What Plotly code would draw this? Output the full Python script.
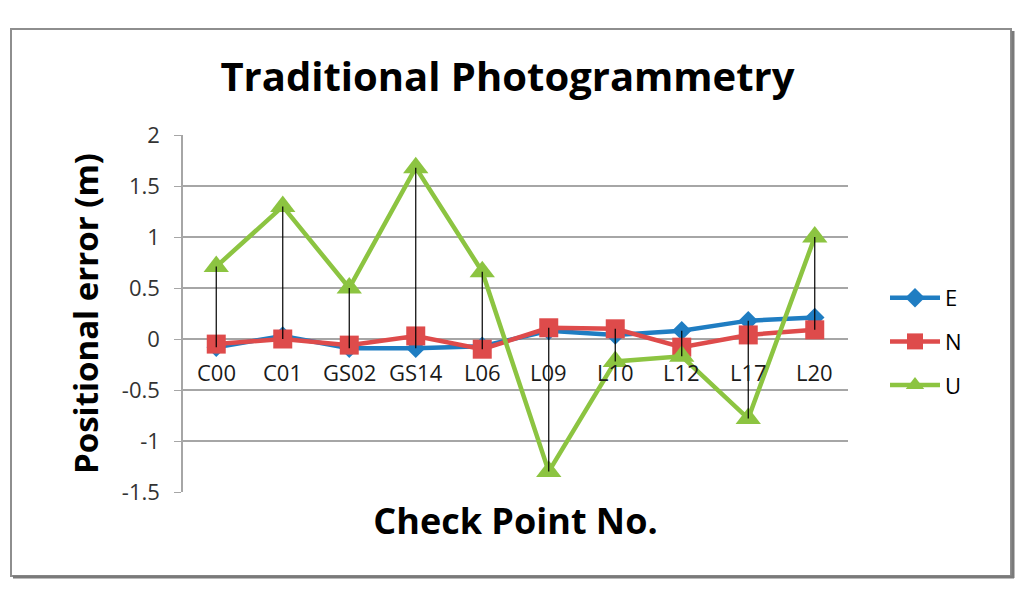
import plotly.graph_objects as go

categories = ["C00", "C01", "GS02", "GS14", "L06", "L09", "L10", "L12", "L17", "L20"]
E = [-0.08, 0.03, -0.09, -0.09, -0.07, 0.08, 0.04, 0.08, 0.18, 0.21]
N = [-0.05, 0.00, -0.06, 0.03, -0.10, 0.11, 0.10, -0.08, 0.04, 0.09]
U = [0.71, 1.30, 0.50, 1.68, 0.66, -1.30, -0.22, -0.17, -0.78, 1.00]
y_ticks = [2, 1.5, 1, 0.5, 0, -0.5, -1, -1.5]
y_tick_text = ["2", "1.5", "1", "0.5", "0", "-0.5", "-1", "-1.5"]

FONT = "Open Sans"
colors = {"E": "#1F7DC2", "N": "#DE4B4B", "U": "#8CC441"}
symbols = {"E": "diamond", "N": "square", "U": "triangle-up"}
sizes = {"E": 15, "N": 19, "U": 22}

fig = go.Figure()
for name, vals in [("E", E), ("N", N), ("U", U)]:
    fig.add_trace(go.Scatter(
        x=categories, y=vals, name=name, mode="lines+markers",
        line=dict(color=colors[name], width=4.5),
        marker=dict(symbol=symbols[name], size=sizes[name], color=colors[name]),
        legendgroup=name,
    ))

# high-low lines computed from the series
hx, hy = [], []
for c, e, n, u in zip(categories, E, N, U):
    hx += [c, c, None]
    hy += [max(e, n, u), min(e, n, u), None]
fig.add_trace(go.Scatter(x=hx, y=hy, mode="lines", line=dict(color="black", width=1.2),
                         showlegend=False, hoverinfo="skip"))

# category labels along the zero line
for c in categories:
    fig.add_annotation(x=c, y=0, xref="x", yref="y", text=c, showarrow=False,
                       yanchor="middle", yshift=-33,
                       font=dict(family=FONT, size=22, color="#1a1a1a"))

# page body has an 8px margin; work in screen pixels and shift
OFF = 8
W, H = 1024 - OFF, 595 - OFF
L, R, T, B = 183 - OFF, 848 - OFF, 135 - OFF, 492 - OFF
pw, ph = R - L, B - T

def px(x):
    return (x - OFF - L) / pw

def py(y):
    return (B - (y - OFF)) / ph

# outer border with shadow
fig.add_shape(type="rect", xref="paper", yref="paper",
              x0=px(11), x1=px(1011), y0=py(576), y1=py(29),
              line=dict(color="#8E8E8E", width=2), layer="below")
fig.add_shape(type="line", xref="paper", yref="paper",
              x0=px(1013), x1=px(1013), y0=py(578), y1=py(31),
              line=dict(color="#7A7A7A", width=3))
fig.add_shape(type="line", xref="paper", yref="paper",
              x0=px(13), x1=px(1014), y0=py(577), y1=py(577),
              line=dict(color="#7A7A7A", width=3))

fig.update_layout(
    width=W, height=H,
    margin=dict(l=L, r=W - R, t=T, b=H - B),
    paper_bgcolor="white", plot_bgcolor="white",
    title=dict(text="<b>Traditional Photogrammetry</b>",
               x=((220 + 795) / 2 - OFF) / W, xanchor="center",
               y=1 - (77 - OFF) / H, yanchor="middle",
               font=dict(family=FONT, size=40, color="black")),
    xaxis=dict(type="category", categoryorder="array", categoryarray=categories,
               range=[-0.5, len(categories) - 0.5], showticklabels=False, showgrid=False,
               zeroline=False, showline=False, ticks="",
               title=dict(text="<b>Check Point No.</b>", standoff=16,
                          font=dict(family=FONT, size=36, color="black"))),
    yaxis=dict(range=[-1.5, 2], tickvals=y_ticks, ticktext=y_tick_text,
               showgrid=True, gridcolor="#A6A6A6", gridwidth=1.5,
               zeroline=False, showline=True, linecolor="#A6A6A6", linewidth=1.5,
               ticks="outside", ticklen=7, tickcolor="#A6A6A6",
               ticklabelstandoff=10,
               tickfont=dict(family=FONT, size=22, color="#333333"),
               title=dict(text="<b>Positional error (m)</b>", standoff=13,
                          font=dict(family=FONT, size=33, color="black"))),
    legend=dict(x=px(885), y=py(277), xanchor="left", yanchor="top",
                font=dict(family=FONT, size=22, color="black"),
                itemwidth=50, tracegroupgap=12, bgcolor="rgba(0,0,0,0)"),
    showlegend=True,
)

fig.write_html("out.html")
